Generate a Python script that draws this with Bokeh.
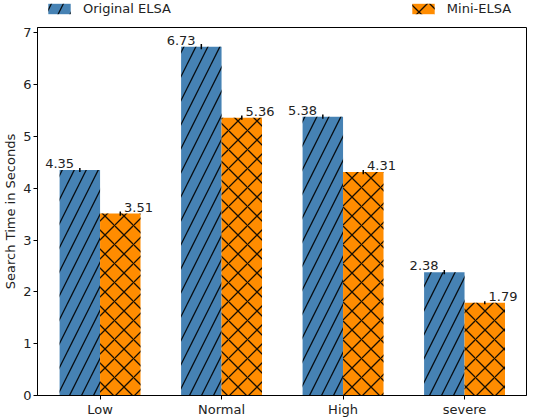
import numpy as np
from bokeh.plotting import figure
from bokeh.layouts import column
from bokeh.models import Legend, LegendItem, FixedTicker, ColumnDataSource
from bokeh.core.properties import value
from bokeh.embed import file_html
from bokeh.resources import INLINE

# data
categories = ["Low", "Normal", "High", "severe"]
original = [4.35, 6.73, 5.38, 2.38]
mini = [3.51, 5.36, 4.31, 1.79]
original_err = [0.04, 0.05, 0.04, 0.04]
mini_err = [0.04, 0.04, 0.04, 0.03]
y_ticks = [0, 1, 2, 3, 4, 5, 6, 7]
series_names = ["Original ELSA", "Mini-ELSA"]

FONT = "DejaVu Sans"
BLUE = "#4682b4"
ORANGE = "#ff8c00"
style_o = dict(fill_color=BLUE, line_color=None, hatch_pattern="/", hatch_color="black",
               hatch_scale=24, hatch_weight=1.3, hatch_alpha=0.9)
style_m = dict(fill_color=ORANGE, line_color=None, hatch_pattern="x", hatch_color="black",
               hatch_scale=19, hatch_weight=1.3, hatch_alpha=0.9)

x = np.arange(len(categories))
w = 0.333

src_o = ColumnDataSource(dict(
    x=x - w / 2, lx=x - w, top=original,
    lo=np.array(original) - np.array(original_err),
    hi=np.array(original) + np.array(original_err),
    lbl=["%.2f" % v for v in original]))
src_m = ColumnDataSource(dict(
    x=x + w / 2, lx=x + w, top=mini,
    lo=np.array(mini) - np.array(mini_err),
    hi=np.array(mini) + np.array(mini_err),
    lbl=["%.2f" % v for v in mini]))

p = figure(width=528, height=404, x_range=(-0.515, 3.51), y_range=(0, 7.1),
           output_backend="svg", toolbar_location=None,
           min_border_left=31, min_border_right=2, min_border_top=11, min_border_bottom=25)

p.vbar(x="x", top="top", width=w, source=src_o, **style_o)
p.vbar(x="x", top="top", width=w, source=src_m, **style_m)

# error bars
p.segment(x0="x", y0="lo", x1="x", y1="hi", source=src_o, line_color="black", line_width=1.5)
p.segment(x0="x", y0="lo", x1="x", y1="hi", source=src_m, line_color="black", line_width=1.5)

# value labels
p.text(x="lx", y="top", text="lbl", source=src_o, text_align="center", text_baseline="bottom",
       y_offset=-2, text_font=value(FONT), text_font_size="13px", text_color="#222222")
p.text(x="lx", y="top", text="lbl", source=src_m, text_align="center", text_baseline="bottom",
       x_offset=-2, y_offset=-2, text_font=value(FONT), text_font_size="13px", text_color="#222222")

# axes
p.xgrid.grid_line_color = None
p.ygrid.grid_line_color = None
p.outline_line_color = "black"
p.outline_line_alpha = 1

p.xaxis.ticker = FixedTicker(ticks=list(x))
p.xaxis.major_label_overrides = {int(i): c for i, c in zip(x, categories)}
p.yaxis.ticker = FixedTicker(ticks=y_ticks)
p.yaxis.axis_label = "Search Time in Seconds"

for ax in (p.xaxis, p.yaxis):
    ax.axis_line_color = "black"
    ax.major_tick_line_color = "black"
    ax.minor_tick_line_color = None
    ax.major_tick_out = 4
    ax.major_tick_in = 0
    ax.major_label_text_font = FONT
    ax.major_label_text_font_size = "13px"
    ax.major_label_text_color = "#222222"
    ax.major_label_standoff = 2
    ax.axis_label_text_font = FONT
    ax.axis_label_text_font_size = "13px"
    ax.axis_label_text_font_style = "normal"
    ax.axis_label_text_color = "#222222"
    ax.axis_label_standoff = 2

# legend strip above the plot: one entry at the left, one at the right
lg = figure(width=528, height=16, x_range=(0, 1), y_range=(0, 1),
            output_backend="svg", toolbar_location=None,
            x_axis_type=None, y_axis_type=None, min_border=0)
lg.outline_line_color = None
# proxy glyphs (NaN, so nothing is drawn) only used for the legend swatches
lr1 = lg.vbar(x=[np.nan], top=[np.nan], width=0.1, **style_o)
lr2 = lg.vbar(x=[np.nan], top=[np.nan], width=0.1, **style_m)
legend = Legend(items=[LegendItem(label=series_names[0], renderers=[lr1]),
                       LegendItem(label=series_names[1], renderers=[lr2])],
                location=(8, 0), orientation="horizontal", spacing=238,
                glyph_width=28, glyph_height=13, label_height=13, label_standoff=10,
                padding=0, margin=0, border_line_color=None, background_fill_alpha=0,
                label_text_font=FONT, label_text_font_size="13px", label_text_color="#222222")
lg.add_layout(legend)

page = column(lg, p, spacing=0)
open("out.html", "w").write(file_html(page, INLINE))
